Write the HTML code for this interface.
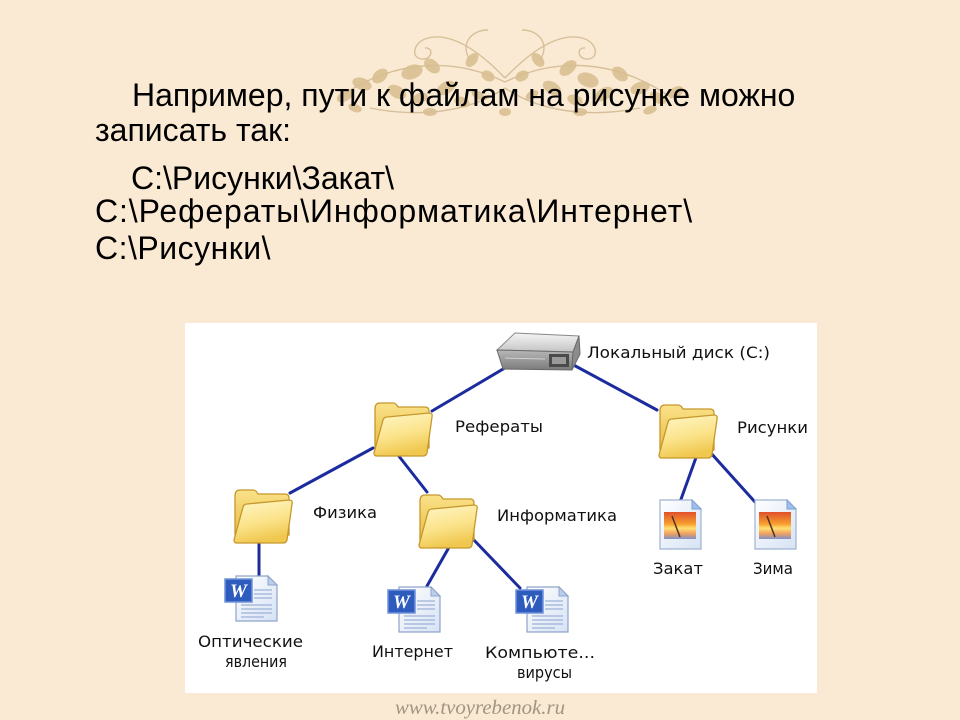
<!DOCTYPE html>
<html><head><meta charset="utf-8">
<style>
html,body{margin:0;padding:0;}
body{width:960px;height:720px;overflow:hidden;background:#FBEAD3;position:relative;}
.t{position:absolute;font-family:"Liberation Sans","DejaVu Sans",sans-serif;font-size:32px;line-height:32px;color:#000;white-space:nowrap;}
svg{position:absolute;left:0;top:0;}
</style></head><body>
<svg width="960" height="720" viewBox="0 0 960 720" xmlns="http://www.w3.org/2000/svg">
<defs>
 <linearGradient id="fb" x1="0" y1="0" x2="0" y2="1"><stop offset="0" stop-color="#fae28a"/><stop offset="1" stop-color="#e8bb42"/></linearGradient>
 <linearGradient id="ff" x1="0" y1="0" x2="0.3" y2="1"><stop offset="0" stop-color="#fff7c8"/><stop offset="0.6" stop-color="#fbe38a"/><stop offset="1" stop-color="#f0c850"/></linearGradient>
 <linearGradient id="pg" x1="0" y1="0" x2="1" y2="1"><stop offset="0" stop-color="#ffffff"/><stop offset="1" stop-color="#d6e2f4"/></linearGradient>
 <linearGradient id="pic" x1="0" y1="0" x2="0" y2="1"><stop offset="0" stop-color="#e0502a"/><stop offset="0.45" stop-color="#f7a030"/><stop offset="0.6" stop-color="#ffe070"/><stop offset="0.8" stop-color="#f0a060"/><stop offset="1" stop-color="#8090c8"/></linearGradient>
 <linearGradient id="dtop" x1="0" y1="0" x2="0" y2="1"><stop offset="0" stop-color="#f4f4f4"/><stop offset="1" stop-color="#c4c4c4"/></linearGradient>
 <linearGradient id="dfront" x1="0" y1="0" x2="0" y2="1"><stop offset="0" stop-color="#b8b8b8"/><stop offset="1" stop-color="#7a7a7a"/></linearGradient>
 <g id="folder">
  <path d="M3,9 Q3,3 8,3 L21,3 Q24,3 26,7 L53,7 Q57,7 57,11 L57,48 L3,48 Z" fill="url(#fb)" stroke="#c6982c" stroke-width="1.3"/>
  <path d="M11,20 Q12,17 15,17 L57,13 Q61,13 60,17 L55,53 Q54,56 51,56 L5,56 Q2,56 2,53 Z" fill="url(#ff)" stroke="#c6982c" stroke-width="1.3"/>
 </g>
 <g id="word">
  <path d="M12,1 L44,1 L53,10 L53,46 L12,46 Z" fill="url(#pg)" stroke="#8ea3c9" stroke-width="1.2"/>
  <path d="M44,1 L44,10 L53,10 Z" fill="#b9cdee" stroke="#8ea3c9" stroke-width="1"/>
  <g stroke="#9db1d8" stroke-width="1.2">
   <line x1="30" y1="15" x2="48" y2="15"/><line x1="30" y1="19" x2="48" y2="19"/><line x1="30" y1="23" x2="48" y2="23"/>
   <line x1="17" y1="30" x2="48" y2="30"/><line x1="17" y1="34" x2="48" y2="34"/><line x1="17" y1="38" x2="48" y2="38"/><line x1="17" y1="42" x2="40" y2="42"/>
  </g>
  <rect x="1" y="4" width="27" height="23" fill="#2d5cbe" stroke="#6f92d8" stroke-width="1.5"/>
  <text x="14.5" y="22" text-anchor="middle" font-family="Liberation Serif,serif" font-style="italic" font-weight="bold" font-size="19" fill="#fff">W</text>
 </g>
 <g id="img">
  <path d="M2,1 L34,1 L43,10 L43,50 L2,50 Z" fill="url(#pg)" stroke="#9fb2d2" stroke-width="1.2"/>
  <path d="M34,1 L34,10 L43,10 Z" fill="#9fc0ee" stroke="#7fa0d0" stroke-width="1"/>
  <rect x="6" y="13" width="32" height="27" fill="url(#pic)"/>
  <path d="M14,17 L22,38" stroke="#503020" stroke-width="1.5"/>
 </g>
</defs>

<!-- ornament -->
<g fill="none" stroke="#d3bb94" stroke-width="1.4" opacity="0.9">
 <path d="M505,78 C480,52 452,32 428,38 C412,42 410,60 424,59 C433,58 433,47 425,48"/>
 <path d="M505,78 C530,52 558,32 582,38 C598,42 600,60 586,59 C577,58 577,47 585,48"/>
 <path d="M505,82 C460,60 400,55 338,98"/>
 <path d="M505,82 C550,60 610,55 672,98"/>
 <path d="M505,88 C470,112 420,118 370,108"/>
 <path d="M505,88 C540,112 590,118 640,108"/>
 <path d="M470,60 C460,45 470,30 488,30"/>
 <path d="M540,60 C550,45 540,30 522,30"/>
</g>
<g fill="#d9bf92" opacity="0.9">
 <ellipse cx="345" cy="96" rx="9" ry="5" transform="rotate(-30 345 96)"/>
 <ellipse cx="362" cy="84" rx="10" ry="6" transform="rotate(20 362 84)"/>
 <ellipse cx="380" cy="76" rx="9" ry="6" transform="rotate(-40 380 76)"/>
 <ellipse cx="397" cy="92" rx="10" ry="6" transform="rotate(30 397 92)"/>
 <ellipse cx="412" cy="72" rx="11" ry="7" transform="rotate(-20 412 72)"/>
 <ellipse cx="432" cy="66" rx="9" ry="6" transform="rotate(40 432 66)"/>
 <ellipse cx="446" cy="88" rx="10" ry="6" transform="rotate(-30 446 88)"/>
 <ellipse cx="462" cy="102" rx="8" ry="5" transform="rotate(20 462 102)"/>
 <ellipse cx="472" cy="60" rx="8" ry="5" transform="rotate(-50 472 60)"/>
 <ellipse cx="488" cy="76" rx="7" ry="5" transform="rotate(30 488 76)"/>
 <ellipse cx="522" cy="76" rx="7" ry="5" transform="rotate(-30 522 76)"/>
 <ellipse cx="538" cy="60" rx="8" ry="5" transform="rotate(50 538 60)"/>
 <ellipse cx="552" cy="88" rx="10" ry="6" transform="rotate(30 552 88)"/>
 <ellipse cx="568" cy="68" rx="10" ry="6" transform="rotate(-40 568 68)"/>
 <ellipse cx="588" cy="80" rx="11" ry="7" transform="rotate(20 588 80)"/>
 <ellipse cx="604" cy="94" rx="10" ry="6" transform="rotate(-30 604 94)"/>
 <ellipse cx="620" cy="74" rx="9" ry="6" transform="rotate(40 620 74)"/>
 <ellipse cx="640" cy="88" rx="10" ry="6" transform="rotate(-20 640 88)"/>
 <ellipse cx="658" cy="98" rx="9" ry="5" transform="rotate(30 658 98)"/>
 <ellipse cx="676" cy="92" rx="8" ry="5" transform="rotate(-30 676 92)"/>
 <ellipse cx="505" cy="112" rx="6" ry="4"/>
 <ellipse cx="430" cy="112" rx="7" ry="4"/>
 <ellipse cx="580" cy="112" rx="7" ry="4"/>
 <ellipse cx="355" cy="108" rx="7" ry="4" transform="rotate(20 355 108)"/>
 <ellipse cx="420" cy="98" rx="8" ry="5" transform="rotate(-20 420 98)"/>
 <ellipse cx="478" cy="95" rx="7" ry="4" transform="rotate(30 478 95)"/>
 <ellipse cx="532" cy="95" rx="7" ry="4" transform="rotate(-30 532 95)"/>
 <ellipse cx="575" cy="100" rx="8" ry="5" transform="rotate(20 575 100)"/>
 <ellipse cx="650" cy="110" rx="7" ry="4" transform="rotate(-20 650 110)"/>
</g>

<!-- panel -->
<rect x="185" y="323" width="632" height="370" fill="#ffffff"/>

<!-- connectors -->
<g stroke="#1c2c9e" stroke-width="3" stroke-linecap="round" fill="none">
 <line x1="432" y1="411" x2="515" y2="362"/>
 <line x1="568" y1="362" x2="657" y2="410"/>
 <line x1="373" y1="448" x2="290" y2="493"/>
 <line x1="398" y1="455" x2="427" y2="492"/>
 <line x1="259" y1="542" x2="259" y2="576"/>
 <line x1="452" y1="542" x2="427" y2="586"/>
 <line x1="472" y1="538" x2="520" y2="588"/>
 <line x1="698" y1="452" x2="680" y2="502"/>
 <line x1="710" y1="452" x2="755" y2="502"/>
</g>

<!-- disk -->
<g>
 <polygon points="497,350 515,333 579,336 573,352" fill="url(#dtop)" stroke="#8a8a8a" stroke-width="1"/>
 <polygon points="497,350 573,352 572,370 503,369" fill="url(#dfront)" stroke="#6a6a6a" stroke-width="1"/>
 <polygon points="573,352 579,336 580,354 572,370" fill="#8c8c8c" stroke="#6a6a6a" stroke-width="1"/>
 <rect x="549" y="354" width="20" height="13" fill="#4a4a4a"/>
 <rect x="552" y="357" width="14" height="7" fill="#9a9a9a"/>
 <line x1="505" y1="358" x2="545" y2="359" stroke="#d0d0d0" stroke-width="1"/>
</g>

<!-- folders -->
<use href="#folder" x="372" y="400"/>
<use href="#folder" x="657" y="402"/>
<use href="#folder" x="232" y="487"/>
<use href="#folder" x="417" y="492"/>

<!-- docs -->
<use href="#word" x="224" y="575"/>
<use href="#word" x="387" y="586"/>
<use href="#word" x="515" y="586"/>
<use href="#img" x="658" y="499"/>
<use href="#img" x="753" y="499"/>

<!-- labels -->
<g font-family="DejaVu Sans, Liberation Sans, sans-serif" font-size="16" fill="#111">
 <text x="587" y="358" textLength="183" lengthAdjust="spacingAndGlyphs">Локальный диск (С:)</text>
 <text x="455" y="432" textLength="88" lengthAdjust="spacingAndGlyphs">Рефераты</text>
 <text x="737" y="433" textLength="71" lengthAdjust="spacingAndGlyphs">Рисунки</text>
 <text x="313" y="518" textLength="64" lengthAdjust="spacingAndGlyphs">Физика</text>
 <text x="497" y="521" textLength="120" lengthAdjust="spacingAndGlyphs">Информатика</text>
 <text x="198" y="647" textLength="105" lengthAdjust="spacingAndGlyphs">Оптические</text>
 <text x="225" y="667" textLength="62" lengthAdjust="spacingAndGlyphs">явления</text>
 <text x="372" y="657" textLength="81" lengthAdjust="spacingAndGlyphs">Интернет</text>
 <text x="485" y="658" textLength="110" lengthAdjust="spacingAndGlyphs">Компьюте...</text>
 <text x="517" y="678" textLength="55" lengthAdjust="spacingAndGlyphs">вирусы</text>
 <text x="653" y="574" textLength="50" lengthAdjust="spacingAndGlyphs">Закат</text>
 <text x="753" y="574" textLength="40" lengthAdjust="spacingAndGlyphs">Зима</text>
</g>

<!-- watermark -->
<text x="395" y="714" font-family="Liberation Serif, serif" font-style="italic" font-size="20" fill="#a09485" textLength="170" lengthAdjust="spacingAndGlyphs">www.tvoyrebenok.ru</text>
</svg>

<div class="t" style="left:132px;top:79px;">Например, пути к файлам на рисунке можно</div>
<div class="t" style="left:95px;top:114px;">записать так:</div>
<div class="t" style="left:131px;top:162px;">C:\Рисунки\Закат\</div>
<div class="t" style="left:95px;top:195px;letter-spacing:0.9px;">C:\Рефераты\Информатика\Интернет\</div>
<div class="t" style="left:95px;top:232px;letter-spacing:0.5px;">C:\Рисунки\</div>
</body></html>
